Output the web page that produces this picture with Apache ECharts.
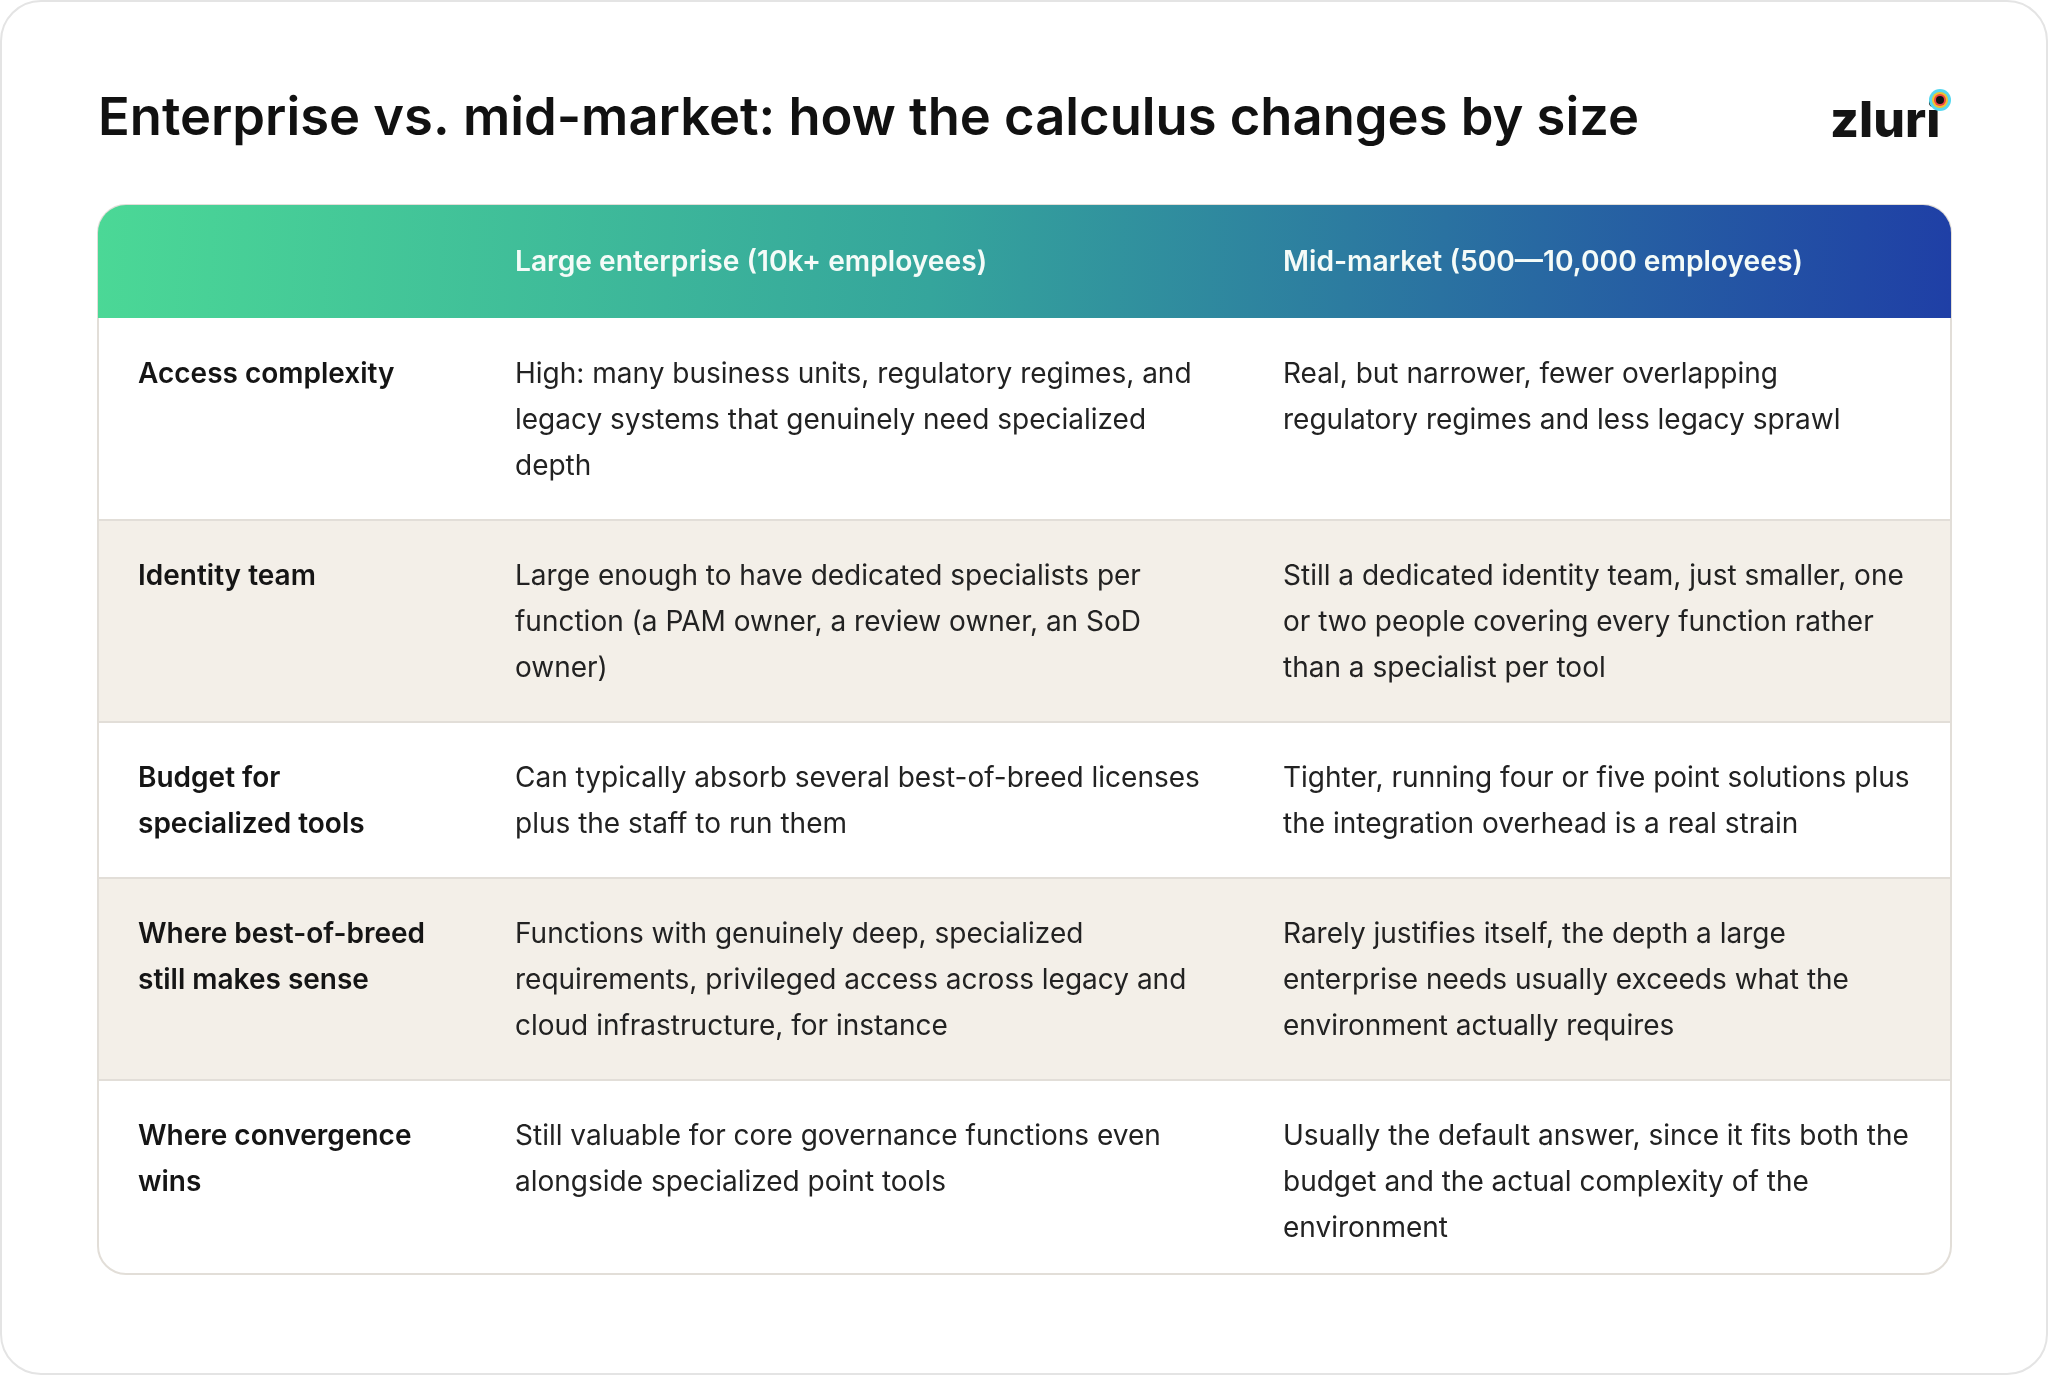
<!DOCTYPE html>
<html>
<head>
<meta charset="utf-8">
<script src="https://cdn.jsdelivr.net/npm/echarts@6/dist/echarts.min.js"></script>
<style>
  html, body { margin: 0; padding: 0; background: #fff; }
  #chart { width: 2048px; height: 1375px; }
</style>
</head>
<body>
<div id="chart"></div>
<script>
// Table content
const titleText = 'Enterprise vs. mid-market: how the calculus changes by size';
const columnHeaders = ['', 'Large enterprise (10k+ employees)', 'Mid-market (500\u201410,000 employees)'];
const rowLabels = [
    ['Access complexity'],
    ['Identity team'],
    ['Budget for', 'specialized tools'],
    ['Where best-of-breed', 'still makes sense'],
    ['Where convergence', 'wins']
];
const enterpriseText = [
    ['High: many business units, regulatory regimes, and', 'legacy systems that genuinely need specialized', 'depth'],
    ['Large enough to have dedicated specialists per', 'function (a PAM owner, a review owner, an SoD', 'owner)'],
    ['Can typically absorb several best-of-breed licenses', 'plus the staff to run them'],
    ['Functions with genuinely deep, specialized', 'requirements, privileged access across legacy and', 'cloud infrastructure, for instance'],
    ['Still valuable for core governance functions even', 'alongside specialized point tools']
];
const midMarketText = [
    ['Real, but narrower, fewer overlapping', 'regulatory regimes and less legacy sprawl'],
    ['Still a dedicated identity team, just smaller, one', 'or two people covering every function rather', 'than a specialist per tool'],
    ['Tighter, running four or five point solutions plus', 'the integration overhead is a real strain'],
    ['Rarely justifies itself, the depth a large', 'enterprise needs usually exceeds what the', 'environment actually requires'],
    ['Usually the default answer, since it fits both the', 'budget and the actual complexity of the', 'environment']
];

const chart = echarts.init(document.getElementById('chart'));

const FONT = 'Inter, "Noto Sans", sans-serif';
const left = 98, right = 1951, headTop = 205, headBottom = 318;
const colX = [138, 515, 1283];
const lineH = 46;
const elements = [];

// outer card
elements.push({
    type: 'rect', shape: { x: 1, y: 1, width: 2046, height: 1373, r: 40 },
    style: { fill: '#fff', stroke: '#e4e4e4', lineWidth: 2 }
});

// title
elements.push({
    type: 'text', x: 98, y: 119,
    style: { text: titleText, font: '600 52.5px ' + FONT, fill: '#111', textVerticalAlign: 'middle' }
});

// logo
elements.push({
    type: 'text', x: 1830, y: 122,
    style: { text: 'zluri', font: '800 50px ' + FONT, fill: '#141414', textVerticalAlign: 'middle' }
});
elements.push({ type: 'circle', shape: { cx: 1940, cy: 100, r: 11 }, style: { fill: '#55d8f0' } });
elements.push({ type: 'circle', shape: { cx: 1940, cy: 100, r: 8 }, style: { fill: '#f0c030' } });
elements.push({ type: 'circle', shape: { cx: 1940, cy: 100, r: 6 }, style: { fill: '#ee4444' } });
elements.push({ type: 'circle', shape: { cx: 1940, cy: 100, r: 4 }, style: { fill: '#111' } });

// rows
let y = headBottom;
const rowBounds = [];
rowLabels.forEach((lab, i) => {
    const n = Math.max(lab.length, enterpriseText[i].length, midMarketText[i].length);
    let h = 110 + lineH * (n - 1);
    if (i === rowLabels.length - 1) h -= 8;
    rowBounds.push([y, h]);
    y += h;
});
const tableBottom = y;

// table body background + border
elements.push({
    type: 'rect', shape: { x: left, y: headTop, width: right - left, height: tableBottom - headTop, r: [28, 28, 28, 28] },
    style: { fill: '#fff', stroke: '#e2ded8', lineWidth: 2 }
});
rowBounds.forEach(([ry, h], i) => {
    if (i % 2 === 1) {
        elements.push({ type: 'rect', shape: { x: left + 1, y: ry, width: right - left - 2, height: h }, style: { fill: '#f3efe8' } });
    }
    if (i > 0) {
        elements.push({ type: 'line', shape: { x1: left, y1: ry, x2: right, y2: ry }, style: { stroke: '#e2ded8', lineWidth: 2 } });
    }
    const cols = [rowLabels[i], enterpriseText[i], midMarketText[i]];
    cols.forEach((lines, c) => {
        lines.forEach((t, k) => {
            elements.push({
                type: 'text', x: colX[c], y: ry + 57 + k * lineH,
                style: {
                    text: t, font: (c === 0 ? '600 ' : '400 ') + '28px ' + FONT,
                    fill: c === 0 ? '#151515' : '#222', textVerticalAlign: 'middle'
                }
            });
        });
    });
});

// header gradient
elements.push({
    type: 'rect', shape: { x: left, y: headTop, width: right - left, height: headBottom - headTop, r: [28, 28, 0, 0] },
    style: {
        fill: new echarts.graphic.LinearGradient(0, 0, 1, 1, [
            { offset: 0, color: '#4bd896' },
            { offset: 0.45, color: '#35a59c' },
            { offset: 1, color: '#1f3fa6' }
        ])
    }
});
columnHeaders.forEach((t, c) => {
    if (!t) return;
    elements.push({
        type: 'text', x: colX[c], y: 263,
        style: { text: t, font: '600 28.2px ' + FONT, fill: '#f4fbf8', textVerticalAlign: 'middle' }
    });
});

chart.setOption({ animation: false, graphic: { elements: elements } });
</script>
</body>
</html>
